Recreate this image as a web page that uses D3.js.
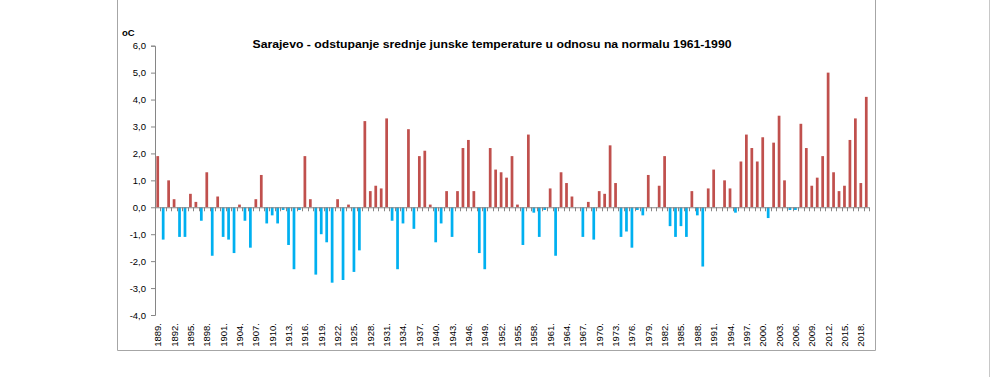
<!DOCTYPE html>
<html><head><meta charset="utf-8">
<script src="https://cdn.jsdelivr.net/npm/d3@7"></script>
<style>
html,body{margin:0;padding:0;background:#fff;}
svg{display:block;}
</style></head>
<body>
<svg id="c" width="994" height="377"></svg>
<script>
const years = d3.range(1889, 2020);
const anomalies = [
 1.9,-1.2,1.0,0.3,-1.1,-1.1,0.5,0.2,-0.5,1.3,
 -1.8,0.4,-1.1,-1.2,-1.7,0.1,-0.5,-1.5,0.3,1.2,
 -0.6,-0.3,-0.6,-0.1,-1.4,-2.3,-0.1,1.9,0.3,-2.5,
 -1.0,-1.3,-2.8,0.3,-2.7,0.1,-2.4,-1.6,3.2,0.6,
 0.8,0.7,3.3,-0.5,-2.3,-0.6,2.9,-0.8,1.9,2.1,
 0.1,-1.3,-0.6,0.6,-1.1,0.6,2.2,2.5,0.6,-1.7,
 -2.3,2.2,1.4,1.3,1.1,1.9,0.1,-1.4,2.7,-0.2,
 -1.1,-0.1,0.7,-1.8,1.3,0.9,0.4,0.0,-1.1,0.2,
 -1.2,0.6,0.5,2.3,0.9,-1.1,-0.9,-1.5,-0.1,-0.3,
 1.2,0.0,0.8,1.9,-0.7,-1.1,-0.7,-1.1,0.6,-0.3,
 -2.2,0.7,1.4,0.0,1.0,0.7,-0.2,1.7,2.7,2.2,
 1.7,2.6,-0.4,2.4,3.4,1.0,-0.1,-0.1,3.1,2.2,
 0.8,1.1,1.9,5.0,1.3,0.6,0.8,2.5,3.3,0.9,
 4.1];
const yTicks = [6,5,4,3,2,1,0,-1,-2,-3,-4];
const labelYears = years.filter((y,i)=> i % 3 === 0);
const title = "Sarajevo  - odstupanje srednje junske temperature u odnosu na normalu 1961-1990";
const unitLabel = "oC";

const svg = d3.select("#c");
const mLeft = 155, mRight = 869, mTop = 45.7, mBottom = 315;

// frames
svg.append("line").attr("x1",117.5).attr("x2",117.5).attr("y1",0).attr("y2",350.5).attr("stroke","#a6a6a6");
svg.append("line").attr("x1",117.5).attr("x2",875.5).attr("y1",350.5).attr("y2",350.5).attr("stroke","#a6a6a6");
svg.append("line").attr("x1",875.5).attr("x2",875.5).attr("y1",0).attr("y2",350.5).attr("stroke","#a6a6a6");
svg.append("line").attr("x1",989.5).attr("x2",989.5).attr("y1",0).attr("y2",377).attr("stroke","#c8c8c8");

const x = d3.scaleBand().domain(years).range([mLeft, mRight]).paddingInner(0.5).paddingOuter(0.25);
const y = d3.scaleLinear().domain([-4, 6]).range([mBottom, mTop]);

const data = years.map((yr,i)=>({yr, v: anomalies[i]}));

svg.append("g").selectAll("rect").data(data).join("rect")
  .attr("x", d=> x(d.yr))
  .attr("width", x.bandwidth())
  .attr("y", d=> y(Math.max(0,d.v)))
  .attr("height", d=> Math.abs(y(d.v)-y(0)))
  .attr("fill", d=> d.v >= 0 ? "#c0504d" : "#00b0f0");

// y axis
const yAxis = d3.axisLeft(y).tickValues(yTicks).tickSize(4).tickPadding(5)
  .tickFormat(d=> d3.format(".1f")(d).replace(".", ",").replace("−","-"));
const gy = svg.append("g").attr("transform",`translate(${mLeft},0)`).call(yAxis);
gy.select(".domain").attr("stroke","#868686");
gy.selectAll(".tick line").attr("stroke","#868686");
gy.selectAll("text").attr("font-family","Liberation Sans, Arial, sans-serif").attr("font-size",9.5).attr("fill","#000");

// x axis at zero
const xb = d3.scaleLinear().domain([0, years.length]).range([mLeft, mRight]);
const gx = svg.append("g");
gx.append("line").attr("x1",mLeft).attr("x2",mRight).attr("y1",y(0)+0.5).attr("y2",y(0)+0.5).attr("stroke","#868686");
gx.selectAll("line.t").data(d3.range(1, years.length+1)).join("line").attr("class","t")
  .attr("x1",d=>Math.round(xb(d))+0.5).attr("x2",d=>Math.round(xb(d))+0.5)
  .attr("y1",y(0)).attr("y2",y(0)+4).attr("stroke","#868686");

// x labels
svg.append("g").selectAll("text").data(labelYears).join("text")
  .attr("transform", d=> `translate(${x(d)+x.bandwidth()/2+3.5},323) rotate(-90)`)
  .attr("text-anchor","end")
  .attr("font-family","Liberation Sans, Arial, sans-serif").attr("font-size",9.5)
  .text(d=> d + ".");

// title
svg.append("text").attr("x",492).attr("y",48).attr("text-anchor","middle")
  .attr("font-family","Liberation Sans, Arial, sans-serif").attr("font-weight","bold").attr("font-size",11.5)
  .attr("textLength",479).attr("lengthAdjust","spacingAndGlyphs")
  .text(title);
svg.append("text").attr("x",122).attr("y",36)
  .attr("font-family","Liberation Sans, Arial, sans-serif").attr("font-weight","bold").attr("font-size",9.5)
  .text(unitLabel);
</script>
</body></html>
